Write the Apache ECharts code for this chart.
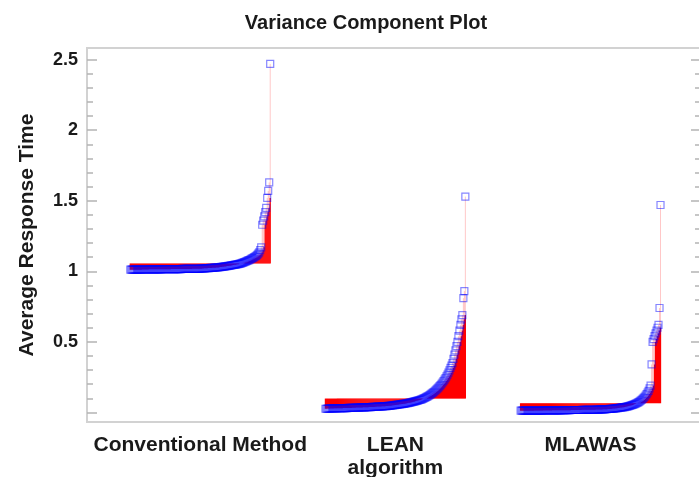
<!DOCTYPE html>
<html><head><meta charset="utf-8">
<script src="https://cdn.jsdelivr.net/npm/echarts@6/dist/echarts.min.js"></script>
<style>html,body{margin:0;padding:0;background:#fff}#c{width:699px;height:477px}</style>
</head><body><div id="c"></div>
<script>
const titleText = 'Variance Component Plot';
const yAxisTitle = 'Average Response Time';
const categories = ['Conventional Method', 'LEAN\nalgorithm', 'MLAWAS'];
const categoryPositions = [1, 2, 3];
// red reference level of each group
const baselines = [1.055, 0.098, 0.065];

const conventional = [
1.012,1.012,1.012,1.012,1.012,1.012,1.012,1.012,1.012,1.012,
1.012,1.012,1.013,1.013,1.013,1.013,1.013,1.013,1.013,1.014,
1.014,1.014,1.014,1.014,1.014,1.014,1.014,1.014,1.014,1.014,
1.014,1.014,1.015,1.015,1.015,1.015,1.015,1.015,1.015,1.015,
1.015,1.016,1.016,1.016,1.016,1.016,1.016,1.016,1.016,1.016,
1.016,1.016,1.017,1.017,1.017,1.017,1.017,1.017,1.017,1.017,
1.017,1.017,1.018,1.018,1.018,1.018,1.018,1.018,1.018,1.018,
1.019,1.019,1.020,1.020,1.021,1.021,1.022,1.022,1.023,1.023,
1.024,1.024,1.025,1.025,1.026,1.026,1.027,1.027,1.028,1.029,
1.030,1.031,1.032,1.033,1.034,1.035,1.036,1.037,1.038,1.039,
1.040,1.042,1.043,1.045,1.046,1.047,1.048,1.050,1.051,1.053,
1.055,1.057,1.060,1.062,1.065,1.068,1.071,1.074,1.077,1.080,
1.084,1.088,1.092,1.096,1.100,1.105,1.110,
1.117,1.125,1.135,1.150,1.170,
1.33,1.36,1.39,1.42,1.45,1.52,1.57,1.63,2.47
];

const lean = [
0.026,0.026,0.027,0.027,0.027,0.028,0.028,0.028,0.028,0.029,
0.029,0.029,0.029,0.030,0.030,0.030,0.030,0.030,0.031,0.031,
0.031,0.031,0.031,0.032,0.032,0.032,0.032,0.033,0.033,0.033,
0.033,0.034,0.034,0.034,0.034,0.035,0.035,0.035,0.036,0.036,
0.036,0.037,0.037,0.037,0.038,0.038,0.038,0.039,0.039,0.039,
0.040,0.040,0.041,0.041,0.041,0.042,0.042,0.043,0.043,0.044,
0.044,0.045,0.045,0.046,0.047,0.047,0.048,0.049,0.050,0.051,
0.052,0.053,0.054,0.055,0.056,0.057,0.058,0.059,0.060,0.061,
0.062,0.063,0.065,0.066,0.068,0.069,0.071,0.072,0.074,0.076,
0.078,0.080,0.082,0.084,0.086,0.088,0.090,0.093,0.096,0.099,
0.102,0.106,0.110,0.114,0.118,0.123,0.128,0.133,0.138,0.144,
0.150,0.156,0.163,0.170,0.178,0.186,0.194,0.203,0.212,0.222,
0.232,0.243,0.255,0.268,0.282,0.298,0.315,0.332,
0.35,0.38,0.41,0.44,0.47,0.50,0.54,0.58,0.62,0.66,0.69,0.81,0.86,1.53
];

const mlawas = [
0.012,0.012,0.012,0.012,0.012,0.012,0.012,0.012,0.012,0.012,
0.012,0.012,0.012,0.012,0.013,0.013,0.013,0.013,0.013,0.013,
0.013,0.013,0.013,0.014,0.014,0.014,0.014,0.014,0.014,0.014,
0.014,0.014,0.015,0.015,0.015,0.015,0.015,0.015,0.015,0.015,
0.015,0.015,0.016,0.016,0.016,0.016,0.016,0.016,0.016,0.016,
0.016,0.017,0.017,0.017,0.017,0.017,0.017,0.017,0.017,0.017,
0.017,0.017,0.018,0.018,0.018,0.018,0.018,0.018,0.018,0.018,
0.018,0.019,0.019,0.019,0.019,0.019,0.020,0.020,0.020,0.020,
0.021,0.021,0.021,0.022,0.022,0.022,0.023,0.023,0.024,0.024,
0.025,0.025,0.026,0.027,0.027,0.028,0.029,0.030,0.031,0.032,
0.033,0.034,0.035,0.036,0.037,0.038,0.040,0.041,0.043,0.045,
0.047,0.049,0.051,0.053,0.056,0.059,0.062,0.065,0.069,0.073,
0.078,0.083,0.089,0.096,0.103,0.111,0.120,0.130,0.141,0.153,
0.170,0.190,0.34,0.50,0.52,0.54,0.56,0.58,0.60,0.62,0.74,1.47
];

const yMajorTicks = [0, 0.5, 1, 1.5, 2, 2.5];
const yMinorTicks = [0.1,0.2,0.3,0.4,0.6,0.7,0.8,0.9,1.1,1.2,1.3,1.4,1.6,1.7,1.8,1.9,2.1,2.2,2.3,2.4];
const yTickLabels = [0.5, 1, 1.5, 2, 2.5];

const groups = [conventional, lean, mlawas];
const HALF = 0.3585;   // half width of a group on the x scale
const K = 3;           // overlap depth that makes the lines look solid
const FONT = "'Liberation Sans', Arial, sans-serif";

const lineData = [], pointData = [];
groups.forEach((vals, g) => {
  const n = vals.length;
  vals.forEach((v, i) => {
    const x = categoryPositions[g] - HALF + 2 * HALF * i / (n - 1);
    lineData.push([x, v, g, i]);
    pointData.push([x, v]);
  });
});

const chart = echarts.init(document.getElementById('c'), null, {renderer: 'canvas'});

function yAxisDef(pos, ticks, len, labels, withName) {
  return {
    type: 'value', position: pos, min: -0.068, max: 2.583,
    axisLine: {show: false},
    axisTick: {show: true, inside: true, length: len, customValues: ticks,
               lineStyle: {color: '#b4b4b4', width: 1.5}},
    axisLabel: labels ? {show: true, customValues: labels, color: '#1a1a1a', fontSize: 18,
               fontWeight: 'bold', fontFamily: FONT, margin: 9} : {show: false},
    splitLine: {show: false},
    name: withName ? yAxisTitle : '',
    nameLocation: 'middle', nameRotate: 90, nameGap: 49,
    nameTextStyle: {color: '#1a1a1a', fontSize: 21, fontWeight: 'bold', fontFamily: FONT}
  };
}

chart.setOption({
  animation: false,
  backgroundColor: '#fff',
  title: {
    text: titleText, left: 361, top: 8, textAlign: 'center',
    textStyle: {color: '#1a1a1a', fontSize: 20, fontWeight: 'bold', fontFamily: FONT}
  },
  grid: {left: 87, right: -2, top: 48, bottom: 55, show: true, outerBoundsMode: 'none',
         containLabel: false,
         borderColor: '#d2d2d2', borderWidth: 2, backgroundColor: 'transparent'},
  xAxis: {
    type: 'value', min: 0.4197, max: 3.566,
    axisLine: {show: false}, axisTick: {show: false}, splitLine: {show: false},
    axisLabel: {
      customValues: categoryPositions, color: '#1a1a1a', fontSize: 21, fontWeight: 'bold',
      fontFamily: FONT, margin: 12, lineHeight: 23,
      formatter: v => categories[categoryPositions.indexOf(Math.round(v))]
    }
  },
  yAxis: [
    yAxisDef('left', yMajorTicks, 10, yTickLabels, true),
    yAxisDef('left', yMinorTicks, 6, null, false),
    yAxisDef('right', yMajorTicks, 10, null, false),
    yAxisDef('right', yMinorTicks, 6, null, false)
  ],
  series: [
    {
      type: 'custom', data: lineData, encode: {x: 0, y: 1}, clip: true, silent: true,
      renderItem: function (params, api) {
        const x = api.value(0), v = api.value(1), g = api.value(2), i = api.value(3);
        const base = baselines[g];
        const vals = groups[g];
        const p0 = api.coord([x, base]);
        const p1 = api.coord([x, v]);
        const kids = [];
        if (v <= base) {
          kids.push({type: 'line', shape: {x1: p0[0], y1: p0[1], x2: p1[0], y2: p1[1]},
                     style: {stroke: '#ff0000', lineWidth: 1.3}});
        } else {
          const ref = i - K >= 0 ? vals[i - K] : base;
          const mid = Math.min(v, Math.max(base, ref));
          const pm = api.coord([x, mid]);
          kids.push({type: 'line', shape: {x1: p0[0], y1: p0[1], x2: pm[0], y2: pm[1]},
                     style: {stroke: '#ff0000', lineWidth: 1.3}});
          kids.push({type: 'line', shape: {x1: pm[0], y1: pm[1], x2: p1[0], y2: p1[1]},
                     style: {stroke: 'rgba(255,0,0,0.22)', lineWidth: 1}});
        }
        return {type: 'group', children: kids};
      }
    },
    {
      type: 'scatter', data: pointData, symbol: 'rect', symbolSize: 7, silent: true,
      itemStyle: {color: 'rgba(0,0,0,0)', borderColor: 'rgba(0,0,255,0.6)', borderWidth: 1.2},
      emphasis: {disabled: true}
    }
  ]
});
</script></body></html>
